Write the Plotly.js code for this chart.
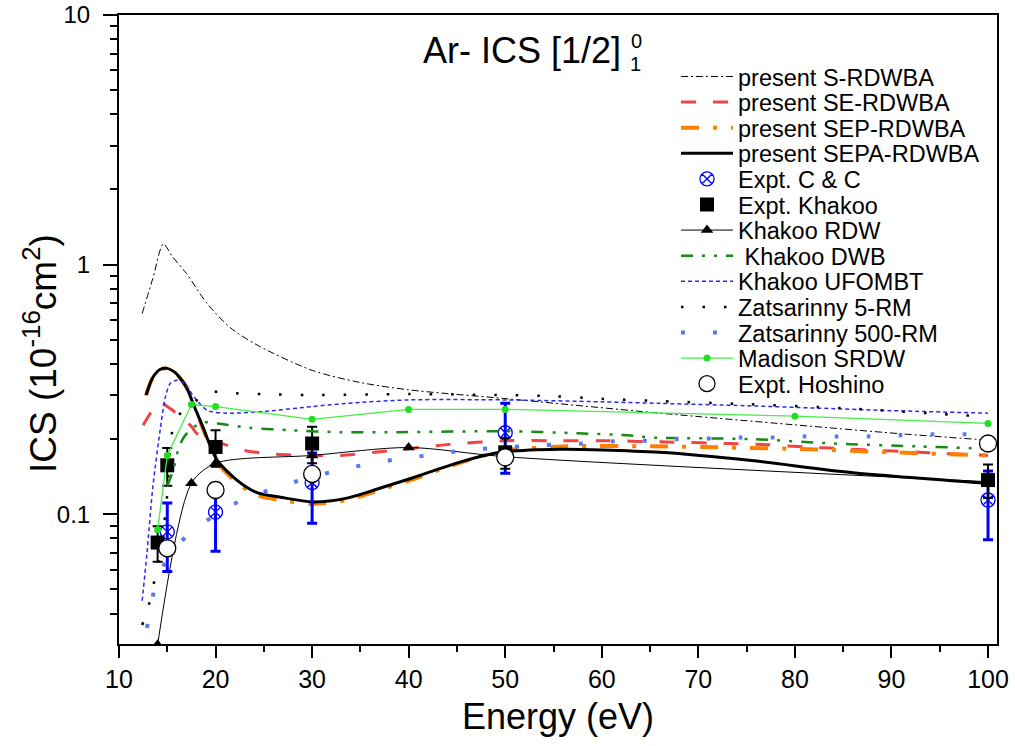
<!DOCTYPE html>
<html><head><meta charset="utf-8">
<script src="https://cdn.plot.ly/plotly-3.0.1.min.js"></script>
<style>html,body{margin:0;padding:0;background:#fff}</style>
</head><body><div id="chart" style="width:1015px;height:746px"></div>
<script>
// ---------- data ----------
const sRdwbaX = [12.4, 13.5, 14.6, 15.5, 17, 19.1, 21.5, 24.4, 30, 35, 40, 49.8, 66, 80, 91, 100];
const sRdwbaY = [0.637, 0.88, 1.21, 1.08, 0.92, 0.70, 0.56, 0.474, 0.377, 0.337, 0.315, 0.291, 0.254, 0.228, 0.21, 0.198];

const seRdwbaX = [12.5, 13.3, 14.2, 15.3, 17.4, 18.1, 21, 23, 26, 30, 33, 37, 40, 44, 50, 55, 60, 66, 73, 77, 81, 85, 88.5, 92, 95.5, 100];
const seRdwbaY = [0.227, 0.255, 0.28, 0.265, 0.227, 0.21, 0.19, 0.18, 0.174, 0.172, 0.172, 0.178, 0.183, 0.19, 0.197, 0.197, 0.197, 0.195, 0.192, 0.19, 0.186, 0.183, 0.18, 0.178, 0.175, 0.172];

const sepRdwbaX = [12.8, 13.5, 14.25, 15, 15.8, 16.5, 17, 17.8, 18.7, 19.4, 20.2, 22.2, 24.3, 26.7, 30.1, 33.6, 37, 40.2, 45.4, 50, 56.5, 65, 73, 81.5, 90, 100];
const sepRdwbaY = [0.30, 0.353, 0.38, 0.384, 0.37, 0.344, 0.322, 0.27, 0.22, 0.188, 0.161, 0.134, 0.119, 0.114, 0.110, 0.114, 0.125, 0.137, 0.161, 0.18, 0.187, 0.187, 0.185, 0.182, 0.177, 0.172];

const sepaRdwbaX = [12.8, 13.5, 14.25, 15, 15.8, 16.5, 17, 17.8, 18.7, 19.4, 20.2, 22.2, 24.3, 26.7, 30.1, 33.6, 37, 40.2, 45.4, 49.5, 55.7, 60, 66, 75.5, 85.8, 100];
const sepaRdwbaY = [0.30, 0.353, 0.38, 0.384, 0.37, 0.344, 0.322, 0.27, 0.223, 0.19, 0.164, 0.137, 0.122, 0.117, 0.112, 0.116, 0.127, 0.139, 0.162, 0.177, 0.182, 0.181, 0.177, 0.164, 0.147, 0.133];

const ccX = [15, 20, 30, 50, 100];
const ccY = [0.085, 0.102, 0.134, 0.212, 0.114];
const ccErr = [0.026, 0.031, 0.042, 0.066, 0.035];

const khakooX = [14, 15, 20, 30, 50, 100];
const khakooY = [0.077, 0.157, 0.186, 0.192, 0.177, 0.137];
const khakooErr = [0.0125, 0.027, 0.031, 0.032, 0.025, 0.021];

const rdwX = [14, 17.5, 20, 30, 40, 50, 100];
const rdwY = [0.030, 0.133, 0.16, 0.172, 0.185, 0.17, 0.135];

const dwbX = [15, 15.6, 16.2, 16.7, 17.5, 18.7, 20.2, 23.5, 27.8, 33, 38, 50, 57.5, 62.7, 65, 75.4, 84, 92.7, 100];
const dwbY = [0.13, 0.15, 0.185, 0.203, 0.22, 0.233, 0.231, 0.222, 0.217, 0.213, 0.213, 0.215, 0.211, 0.207, 0.203, 0.2, 0.192, 0.187, 0.183];

const ufoX = [12.4, 12.9, 13.5, 14.3, 14.8, 15.3, 16, 16.8, 17.8, 19.2, 21.2, 25, 30, 33.6, 40, 50, 60, 66, 75, 82.4, 90, 100];
const ufoY = [0.045, 0.070, 0.128, 0.223, 0.294, 0.334, 0.344, 0.334, 0.294, 0.26, 0.254, 0.258, 0.27, 0.278, 0.287, 0.287, 0.282, 0.278, 0.272, 0.266, 0.26, 0.254];

const z5X = [12.4, 13, 13.5, 13.95, 14.45, 14.8, 15, 15.3, 15.8, 17.05, 19.6, 22, 25, 30, 40, 50, 55, 60, 66, 75, 85, 95, 100];
const z5Y = [0.036, 0.042, 0.051, 0.060, 0.079, 0.1, 0.121, 0.185, 0.238, 0.268, 0.308, 0.305, 0.303, 0.3, 0.303, 0.3, 0.297, 0.29, 0.284, 0.276, 0.266, 0.252, 0.246];

const z500X = [12.9, 13.4, 14, 15.1, 17.05, 21.3, 24.3, 27.4, 32.4, 35.5, 38.8, 41.9, 45.2, 48.5, 51.8, 54.9, 58.1, 61.4, 64.7, 67.9, 71.3, 74.4, 77.7, 80.9, 84.3, 87.6, 90.8, 94.1, 97.4, 100];
const z500Y = [0.035, 0.045, 0.0555, 0.067, 0.082, 0.107, 0.12, 0.132, 0.149, 0.158, 0.166, 0.172, 0.179, 0.184, 0.187, 0.19, 0.192, 0.196, 0.197, 0.2, 0.201, 0.203, 0.203, 0.205, 0.205, 0.205, 0.207, 0.209, 0.209, 0.21];

const madisonX = [14, 15, 17.5, 20, 30, 40, 50, 80, 100];
const madisonY = [0.0866, 0.172, 0.275, 0.27, 0.24, 0.263, 0.263, 0.247, 0.231];

const hoshinoX = [15, 20, 30, 50, 100];
const hoshinoY = [0.073, 0.125, 0.145, 0.169, 0.192];

const xTicks = [10, 20, 30, 40, 50, 60, 70, 80, 90, 100];
const xMinor = [15, 25, 35, 45, 55, 65, 75, 85, 95];
const yTicks = [0.1, 1, 10];
const yTickText = ['0.1', '1', '10'];
const yMinor = [0.04, 0.05, 0.06, 0.07, 0.08, 0.09, 0.2, 0.3, 0.4, 0.5, 0.6, 0.7, 0.8, 0.9, 2, 3, 4, 5, 6, 7, 8, 9];

const legendNames = ['present S-RDWBA', 'present SE-RDWBA', 'present SEP-RDWBA', 'present SEPA-RDWBA',
  'Expt. C &amp; C', 'Expt. Khakoo', 'Khakoo RDW', '\u00a0Khakoo DWB', 'Khakoo UFOMBT',
  'Zatsarinny 5-RM', 'Zatsarinny 500-RM', 'Madison SRDW', 'Expt. Hoshino'];

// ---------- layout helpers ----------
const FONT = 'Liberation Sans, Arial, sans-serif';
const L = 119, R = 997, T = 15, B = 644;
const px2x = p => (p - L) / (R - L);
const py2y = p => (B - p) / (B - T);

const sp = {shape: 'spline', smoothing: 0.8};
const traces = [
  {x: sRdwbaX, y: sRdwbaY, mode: 'lines', line: Object.assign({color: '#000', width: 1, dash: '7px,3px,2px,3px'}, sp)},
  {x: seRdwbaX, y: seRdwbaY, mode: 'lines', line: Object.assign({color: '#ee4444', width: 3, dash: '15px,17px'}, sp)},
  {x: sepRdwbaX, y: sepRdwbaY, mode: 'lines', line: Object.assign({color: '#ff8000', width: 4, dash: '18px,14px,4px,14px'}, sp)},
  {x: sepaRdwbaX, y: sepaRdwbaY, mode: 'lines', line: Object.assign({color: '#000', width: 3}, sp)},
  {x: ccX, y: ccY, mode: 'markers', marker: {symbol: 'circle-x-open', size: 14, color: '#0000ff', line: {width: 1.3, color: '#0000ff'}},
   error_y: {type: 'data', array: ccErr, visible: true, color: '#0000ff', thickness: 3, width: 5}},
  {x: khakooX, y: khakooY, mode: 'markers', marker: {symbol: 'square', size: 14, color: '#000'},
   error_y: {type: 'data', array: khakooErr, visible: true, color: '#000', thickness: 2, width: 5}},
  {x: rdwX, y: rdwY, mode: 'lines+markers', line: Object.assign({color: '#000', width: 1}, sp), marker: {symbol: 'triangle-up', size: 11, color: '#000'}},
  {x: dwbX, y: dwbY, mode: 'lines', line: Object.assign({color: '#178a17', width: 2.5, dash: '12px,9px,3px,9px,3px,9px'}, sp)},
  {x: ufoX, y: ufoY, mode: 'lines', line: Object.assign({color: '#2a2aee', width: 1.5, dash: '4px,3px'}, sp)},
  {x: z5X, y: z5Y, mode: 'lines', line: Object.assign({color: '#000', width: 2.5, dash: '2.5px,19px'}, sp)},
  {x: z500X, y: z500Y, mode: 'lines', line: Object.assign({color: '#5a78f2', width: 4, dash: '4px,28px'}, sp)},
  {x: madisonX, y: madisonY, mode: 'lines+markers', line: {color: '#44ee44', width: 1.3}, marker: {symbol: 'circle', size: 7, color: '#22dd22'}},
  {x: hoshinoX, y: hoshinoY, mode: 'markers', marker: {symbol: 'circle', size: 17, color: '#fff', line: {width: 1.3, color: '#000'}}}
];

const layout = {
  width: 1015, height: 746,
  margin: {l: L, r: 1015 - R, t: T, b: 746 - B},
  paper_bgcolor: '#fff', plot_bgcolor: '#fff',
  font: {family: FONT, color: '#000'},
  showlegend: true,
  xaxis: {
    range: [10, 100.93], tickvals: xTicks, ticks: 'outside', ticklen: 12, tickwidth: 2, tickcolor: '#000',
    showline: true, linewidth: 2, linecolor: '#000', mirror: true, showgrid: false, zeroline: false,
    tickfont: {size: 25, family: FONT},
    minor: {tickvals: xMinor, ticks: 'outside', ticklen: 6, tickwidth: 2, tickcolor: '#000', showgrid: false},
    title: {text: 'Energy (eV)', font: {size: 36, family: FONT}, standoff: 12}
  },
  yaxis: {
    type: 'log', range: [Math.log10(0.0302), 1], tickvals: yTicks, ticktext: yTickText,
    ticks: 'outside', ticklen: 14, tickwidth: 2, tickcolor: '#000', ticklabelstandoff: 8,
    showline: true, linewidth: 2, linecolor: '#000', mirror: true, showgrid: false, zeroline: false,
    tickfont: {size: 24, family: FONT},
    minor: {tickvals: yMinor, ticks: 'outside', ticklen: 7, tickwidth: 2, tickcolor: '#000', showgrid: false}
  },
  yaxis2: {
    type: 'log', range: [Math.log10(0.0302), 1], overlaying: 'y', side: 'right',
    tickvals: yTicks, ticks: 'inside', ticklen: 10, tickwidth: 2, tickcolor: '#000', showticklabels: false,
    showline: false, showgrid: false, zeroline: false,
    minor: {tickvals: yMinor, ticks: 'inside', ticklen: 6, tickwidth: 2, tickcolor: '#000', showgrid: false}
  },
  annotations: [
    {xref: 'paper', yref: 'paper', x: px2x(40), y: py2y(354), xanchor: 'center', yanchor: 'middle', showarrow: false,
     textangle: -90, text: 'ICS (10<sup>-16</sup>cm<sup>2</sup>)', font: {size: 37, family: FONT}},
    {xref: 'paper', yref: 'paper', x: px2x(421), y: py2y(50), xanchor: 'left', yanchor: 'middle', showarrow: false,
     text: 'Ar- ICS [1/2]', font: {size: 36, family: FONT}},
    {xref: 'paper', yref: 'paper', x: px2x(629), y: py2y(41), xanchor: 'left', yanchor: 'middle', showarrow: false,
     text: '0', font: {size: 20, family: FONT}},
    {xref: 'paper', yref: 'paper', x: px2x(628), y: py2y(64), xanchor: 'left', yanchor: 'middle', showarrow: false,
     text: '1', font: {size: 20, family: FONT}}
  ]
};

const legendTop = 76.7, legendStep = 25.6;
traces.forEach((t, i) => {
  t.name = legendNames[i];
  t.type = 'scatter';
  t.xaxis = 'x'; t.yaxis = 'y';
  const key = i === 0 ? 'legend' : 'legend' + (i + 1);
  t.legend = key;
  layout[key] = {
    x: px2x(676), xanchor: 'left', y: py2y(legendTop + i * legendStep), yanchor: 'middle',
    bgcolor: 'rgba(0,0,0,0)', borderwidth: 0, font: {size: 23.5, family: FONT, color: '#000'},
    itemwidth: 52, itemsizing: 'trace'
  };
});

Plotly.newPlot('chart', traces, layout, {displayModeBar: false, staticPlot: true});
</script></body></html>
